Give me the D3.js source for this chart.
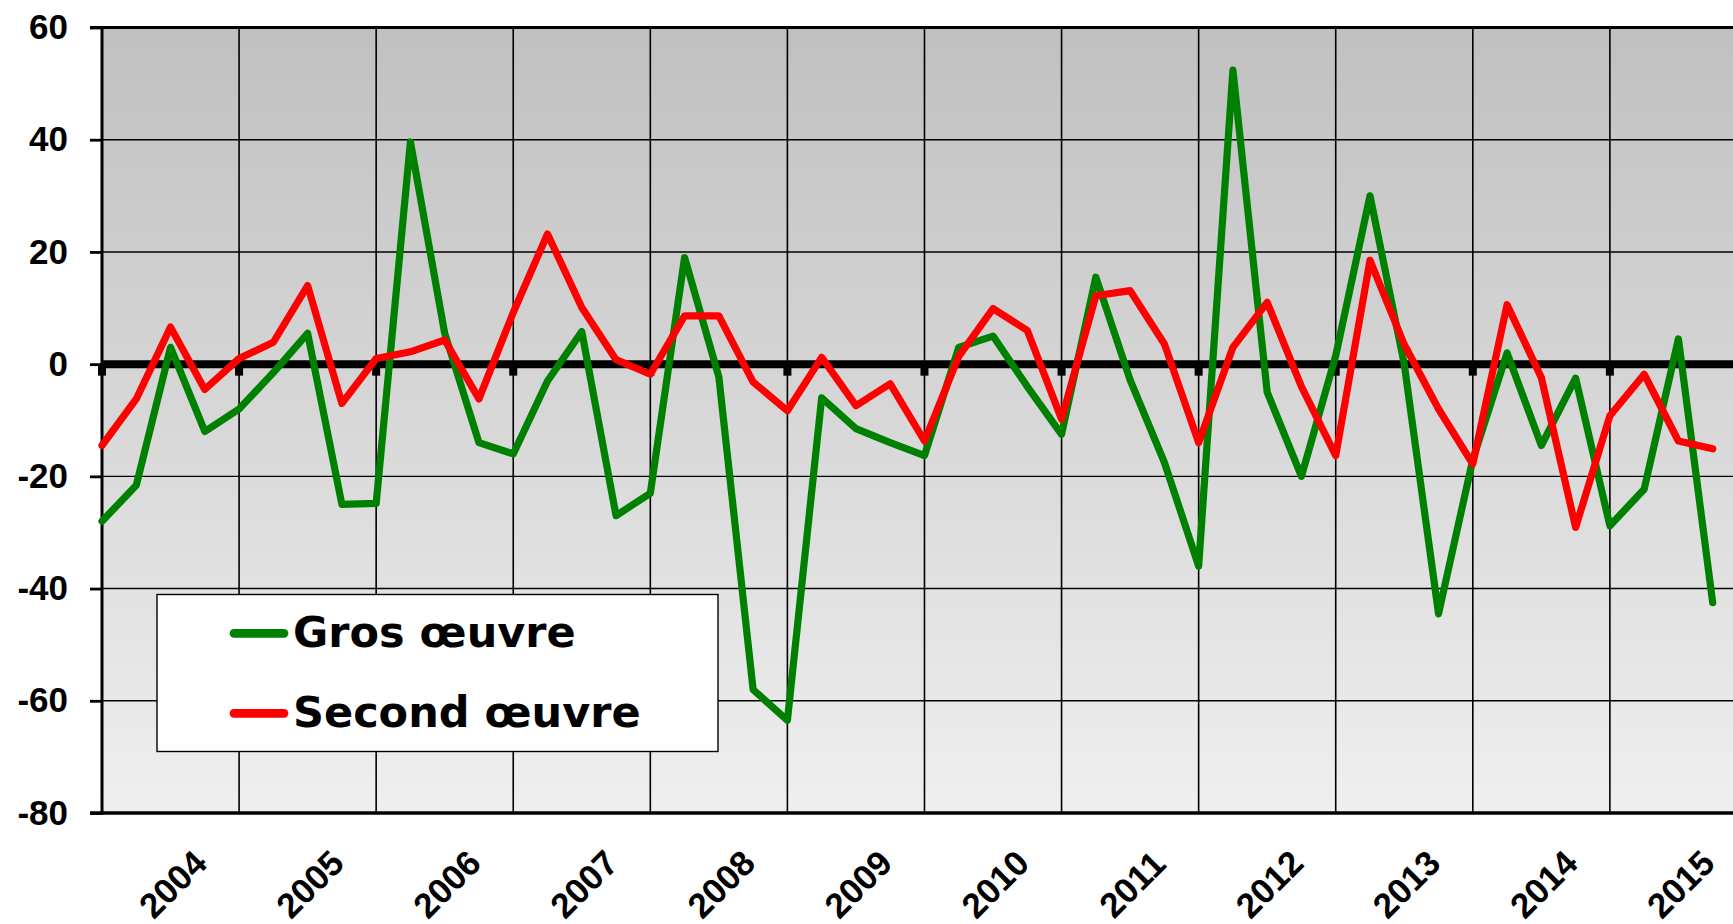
<!DOCTYPE html>
<html>
<head>
<meta charset="utf-8">
<script src="https://cdn.jsdelivr.net/npm/d3@7/dist/d3.min.js"></script>
<style>
  html, body { margin: 0; padding: 0; background: #ffffff; }
  svg { display: block; }
</style>
</head>
<body>
<svg id="chart" width="1733" height="924"></svg>
<script>
// Year labels of the category axis (four quarters per year)
const years = [2004, 2005, 2006, 2007, 2008, 2009, 2010, 2011, 2012, 2013, 2014, 2015];
const quarters = ["T1", "T2", "T3", "T4"];

// Quarterly balances of opinion, in points
const grosOeuvre = [
  -28, -21.6, 3, -12, -8, -1.5, 5.5, -25, -24.8, 39.6, 5.5, -14,
  -16, -3, 5.8, -27, -23, 19, -2.3, -58, -63.5, -6, -11.5, -14,
  -16.3, 3, 5, -4, -12.5, 15.5, -2.8, -17.5, -36, 52.4, -5, -20,
  1.5, 30, 0, -44.5, -17, 2, -14.5, -2.5, -28.8, -22.3, 4.5, -42.5
];
const secondOeuvre = [
  -14.5, -6.2, 6.6, -4.5, 1, 3.9, 14, -7, 1, 2.2, 4.3, -6.2,
  9.2, 23.2, 10.1, 0.8, -1.8, 8.6, 8.6, -3.2, -8.3, 1.2, -7.4, -3.5,
  -13.7, 1.4, 9.9, 6, -9.8, 12.2, 13.1, 3.6, -14, 3, 11, -4,
  -16.3, 18.5, 3.5, -8, -17.8, 10.6, -2.4, -29.1, -9.2, -1.8, -13.7, -15.1
];

const yTicks = [60, 40, 20, 0, -20, -40, -60, -80];
const seriesNames = ["Gros œuvre", "Second œuvre"];
const seriesColors = ["#008000", "#ff0000"];

// Period categories built from the year and quarter lists
const periods = years.flatMap(y => quarters.map(q => y + q));

const svg = d3.select("#chart");
const W = 1733;

const plotLeft = 102, plotTop = 27.5, plotBottom = 813;
const step = 34.27;

const x = d3.scalePoint()
  .domain(periods)
  .range([plotLeft, plotLeft + (periods.length - 1) * step]);

const y = d3.scaleLinear()
  .domain([-80, 60])
  .range([plotBottom, plotTop]);

// Plot background gradient
const defs = svg.append("defs");
const grad = defs.append("linearGradient")
  .attr("id", "bg").attr("x1", 0).attr("y1", 0).attr("x2", 0).attr("y2", 1);
grad.append("stop").attr("offset", "0%").attr("stop-color", "#c0c0c0");
grad.append("stop").attr("offset", "100%").attr("stop-color", "#efefef");

const plotRight = plotLeft + periods.length * step;
svg.append("rect")
  .attr("x", plotLeft).attr("y", plotTop)
  .attr("width", plotRight - plotLeft).attr("height", plotBottom - plotTop)
  .attr("fill", "url(#bg)");

// Horizontal gridlines
svg.append("g").selectAll("line")
  .data(yTicks.filter(v => v !== 60 && v !== 0 && v !== -80))
  .join("line")
  .attr("x1", plotLeft).attr("x2", W)
  .attr("y1", d => y(d)).attr("y2", d => y(d))
  .attr("stroke", "#000").attr("stroke-width", 1.4);

// Vertical gridlines at the first quarter of each year
const yearStarts = years.map(yr => yr + quarters[0]);
svg.append("g").selectAll("line")
  .data(yearStarts.slice(1))
  .join("line")
  .attr("x1", d => x(d)).attr("x2", d => x(d))
  .attr("y1", plotTop).attr("y2", plotBottom)
  .attr("stroke", "#000").attr("stroke-width", 1.6);

// Top border of the plot area
svg.append("line")
  .attr("x1", 90).attr("x2", W)
  .attr("y1", y(60)).attr("y2", y(60))
  .attr("stroke", "#000").attr("stroke-width", 2.8);

// Bottom border
svg.append("line")
  .attr("x1", 90).attr("x2", W)
  .attr("y1", y(-80)).attr("y2", y(-80))
  .attr("stroke", "#000").attr("stroke-width", 3.4);

// Value axis
const yAxis = d3.axisLeft(y)
  .tickValues(yTicks)
  .tickFormat(d => String(d))
  .tickSize(12)
  .tickPadding(22);
const gy = svg.append("g").attr("transform", `translate(${plotLeft},0)`).call(yAxis);
gy.select(".domain").remove();
gy.selectAll(".tick line").attr("stroke", "#000").attr("stroke-width", 2.8);
gy.selectAll(".tick text")
  .attr("fill", "#000")
  .style("font-family", "'Liberation Sans', Arial, sans-serif")
  .style("font-weight", "bold")
  .style("font-size", "35px");
svg.append("line")
  .attr("x1", plotLeft).attr("x2", plotLeft)
  .attr("y1", plotTop - 1.4).attr("y2", plotBottom + 1.7)
  .attr("stroke", "#000").attr("stroke-width", 3);

// Category axis crossing at zero, with its tick marks
svg.append("line")
  .attr("x1", plotLeft).attr("x2", W)
  .attr("y1", y(0)).attr("y2", y(0))
  .attr("stroke", "#000").attr("stroke-width", 8);
svg.append("g").selectAll("rect")
  .data(yearStarts)
  .join("rect")
  .attr("x", d => x(d) - 4).attr("y", y(0))
  .attr("width", 8).attr("height", 11.5)
  .attr("fill", "#000");

// Year labels, rotated
svg.append("g").selectAll("text")
  .data(years)
  .join("text")
  .attr("transform", d => `translate(${x(d + quarters[2]) + 2},884) rotate(-45)`)
  .attr("text-anchor", "middle")
  .attr("dominant-baseline", "central")
  .style("font-family", "'Liberation Sans', Arial, sans-serif")
  .style("font-weight", "bold")
  .style("font-size", "35px")
  .attr("fill", "#000")
  .text(d => d);

// Series lines
const line = d3.line()
  .x((d, i) => x(periods[i]))
  .y(d => y(d));

[grosOeuvre, secondOeuvre].forEach((vals, k) => {
  svg.append("path")
    .datum(vals)
    .attr("d", line)
    .attr("fill", "none")
    .attr("stroke", seriesColors[k])
    .attr("stroke-width", 7.2)
    .attr("stroke-linejoin", "round")
    .attr("stroke-linecap", "round");
});

// Legend
const lg = svg.append("g");
lg.append("rect")
  .attr("x", 157).attr("y", 594.5)
  .attr("width", 561).attr("height", 157)
  .attr("fill", "#fff").attr("stroke", "#000").attr("stroke-width", 1.4);
const legendRows = [633.3, 713.3];
seriesNames.forEach((name, k) => {
  lg.append("line")
    .attr("x1", 234).attr("x2", 284)
    .attr("y1", legendRows[k]).attr("y2", legendRows[k])
    .attr("stroke", seriesColors[k]).attr("stroke-width", 8.7)
    .attr("stroke-linecap", "round");
  lg.append("text")
    .attr("x", 293).attr("y", legendRows[k] + 13.5)
    .style("font-family", "'DejaVu Sans', Verdana, sans-serif")
    .style("font-weight", "bold")
    .style("font-size", "43px")
    .attr("fill", "#000")
    .text(name);
});
</script>
</body>
</html>
